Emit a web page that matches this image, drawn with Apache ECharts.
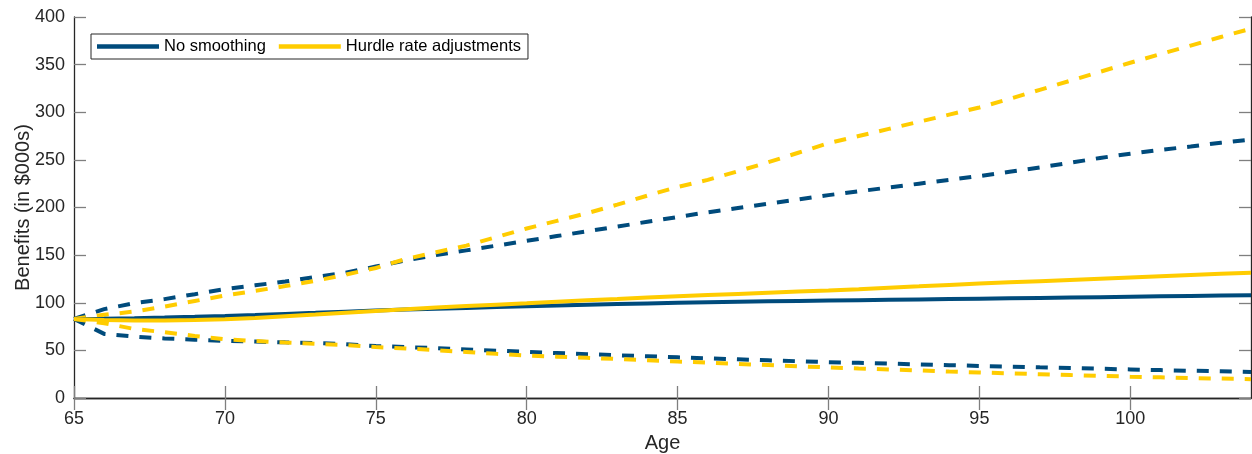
<!DOCTYPE html>
<html>
<head>
<meta charset="utf-8">
<script src="https://cdn.jsdelivr.net/npm/echarts@6/dist/echarts.min.js"></script>
<style>
html,body{margin:0;padding:0;background:#fff;}
#c{width:1252px;height:454px;}
</style>
</head>
<body>
<div id="c"></div>
<script>
const ages = [65,66,67,68,69,70,71,72,73,74,75,76,77,78,79,80,81,82,83,84,85,86,87,88,89,90,91,92,93,94,95,96,97,98,99,100,101,102,103,104];

const noSmoothMedian = [83,83.3,83.8,84.5,85.3,86.2,87.2,88.3,89.4,90.6,91.8,92.8,93.7,94.6,95.5,96.3,97.1,97.9,98.6,99.3,100.0,100.5,101.0,101.5,101.9,102.3,102.7,103.1,103.5,103.9,104.3,104.7,105.1,105.5,105.9,106.3,106.7,107.1,107.5,107.9];
const noSmoothUpper = [83,93.3,99.6,103.8,109,114.3,118.3,122.3,127,131.5,138,144.5,150,155,160,165,170,175,180,185,190,195,199.5,204,208.5,213,217,221,225,229,233,237.5,242,247,252,256.5,260.5,264,268,271.3];
const noSmoothLower = [83,67.3,64.5,62.5,61.2,60,59.2,58.4,57.8,56.5,54.5,53.5,52.3,51,49.7,48.4,47.2,46,44.9,43.8,42.7,41.6,40.6,39.6,38.6,37.6,36.9,36.1,35.3,34.5,33.7,33,32.2,31.5,30.7,30,29.3,28.6,28,27.3];

const hurdleMedian = [83,81.8,81.3,81.3,81.8,82.7,84,85.8,87.6,89.5,91.4,93.2,94.9,96.5,98.0,99.5,101.1,102.6,104.0,105.5,106.8,108.1,109.3,110.5,111.7,112.9,114.3,115.8,117.2,118.7,120.1,121.4,122.7,124.0,125.3,126.6,127.9,129.2,130.4,131.6];
const hurdleUpper = [83,87.3,90.8,96,101.8,107.6,112.5,117.5,123,129.5,136.5,146,153,160,169,178,186,194,203,212.5,221.5,229,238,247.5,257.5,267.5,275,282.5,290,297.5,305,314,323.5,333,342.5,352,361,370,379,387.7];
const hurdleLower = [83,78.5,72.5,69,65.2,61.7,59.8,58.3,57,55.6,53.5,52,50.2,48.3,46.4,44.6,43.4,42.2,40.9,39.6,38.3,37.1,35.8,34.6,33.3,32.1,31,30,28.9,27.8,26.8,25.9,25,24.1,23.2,22.4,21.7,21,20.4,19.8];

const xTicks = {min:65, max:104, interval:5};
const xTickValues = [65,70,75,80,85,90,95,100];
const yTicks = {min:0, max:400, interval:50};

const BLUE = '#004b7c';
const YELLOW = '#ffcc00';
const FONT = '"Liberation Sans", Arial, Helvetica, sans-serif';
const TXT = '#262626';

function pairs(vals){ return ages.map((a,i)=>[a, vals[i]]); }

const dash = [12, 11];
function line(name, vals, color, dashed){
  return {
    name: name, type:'line', data: pairs(vals),
    showSymbol:false, symbol:'none', smooth:false,
    lineStyle:{color:color, width: 4, type: dashed ? dash : 'solid', cap:'butt'},
    itemStyle:{color:color},
    emphasis:{disabled:true},
    silent:true,
    z: dashed ? 2 : 3
  };
}

const chart = echarts.init(document.getElementById('c'), null, {renderer:'canvas'});
const axisLine = {show:true, lineStyle:{color:TXT, width:1.3}};
const tickStyle = {color:'#7f7f7f', width:1.3};
chart.setOption({
  animation:false,
  backgroundColor:'#fff',
  grid:{left:74, right:1, top:17, bottom:56, containLabel:false, outerBoundsMode:'none'},
  legend:{
    data:['No smoothing','Hurdle rate adjustments'],
    left:91, top:34, orient:'horizontal',
    icon:'rect', itemWidth:62, itemHeight:4.5, itemGap:13,
    padding:[4,7,4,6],
    borderColor:TXT, borderWidth:1, backgroundColor:'#fff',
    textStyle:{fontFamily:FONT, fontSize:16.5, color:'#000'},
    selectedMode:false
  },
  xAxis:[
    {type:'value', position:'bottom', min:xTicks.min, max:xTicks.max, interval:xTicks.interval,
      name:'Age', nameLocation:'middle', nameGap:35, nameMoveOverlap:false,
      nameTextStyle:{fontFamily:FONT, fontSize:20, color:TXT},
      axisLine:axisLine, splitLine:{show:false},
      axisTick:{show:true, inside:true, length:12, lineStyle:tickStyle, customValues:xTickValues},
      axisLabel:{fontFamily:FONT, fontSize:18, color:TXT, margin:12, customValues:xTickValues}},
    {type:'value', position:'top', min:xTicks.min, max:xTicks.max, interval:xTicks.interval,
      axisLine:axisLine, splitLine:{show:false},
      axisTick:{show:true, inside:true, length:12, lineStyle:tickStyle, customValues:xTickValues},
      axisLabel:{show:false}}
  ],
  yAxis:[
    {type:'value', position:'left', min:yTicks.min, max:yTicks.max, interval:yTicks.interval,
      name:'Benefits (in $000s)', nameLocation:'middle', nameGap:41, nameMoveOverlap:false,
      nameTextStyle:{fontFamily:FONT, fontSize:20, color:TXT},
      axisLine:axisLine, splitLine:{show:false},
      axisTick:{show:true, inside:true, length:12, lineStyle:tickStyle},
      axisLabel:{fontFamily:FONT, fontSize:18, color:TXT, margin:9}},
    {type:'value', position:'right', min:yTicks.min, max:yTicks.max, interval:yTicks.interval,
      axisLine:axisLine, splitLine:{show:false},
      axisTick:{show:true, inside:true, length:12, lineStyle:tickStyle},
      axisLabel:{show:false}}
  ],
  series:[
    line('No smoothing upper', noSmoothUpper, BLUE, true),
    line('No smoothing lower', noSmoothLower, BLUE, true),
    line('Hurdle upper', hurdleUpper, YELLOW, true),
    line('Hurdle lower', hurdleLower, YELLOW, true),
    line('No smoothing', noSmoothMedian, BLUE, false),
    line('Hurdle rate adjustments', hurdleMedian, YELLOW, false)
  ]
});
</script>
</body>
</html>
